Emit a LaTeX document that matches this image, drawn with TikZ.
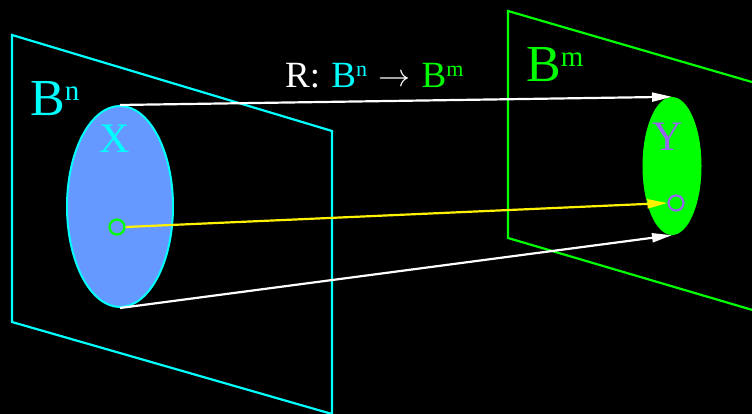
\documentclass[tikz,border=0pt]{standalone}
\usepackage{fontspec}
\setmainfont{Liberation Serif}
\usetikzlibrary{arrows.meta,shapes.geometric}
\definecolor{xfill}{RGB}{102,153,255}
\definecolor{ypurple}{RGB}{150,100,240}
\definecolor{cyn}{RGB}{0,255,255}
\definecolor{grn}{RGB}{0,255,0}
\newcommand\supbig[1]{\raisebox{15pt}{\fontsize{29}{30}\selectfont #1}}
\newcommand\supmid[1]{\raisebox{11pt}{\fontsize{22}{24}\selectfont #1}}
\begin{document}
\begin{tikzpicture}[x=1pt,y=-1pt,
  plane/.style={line width=2.2pt},
  map/.style={line width=2.2pt,-{Triangle[length=20pt,width=9pt]}},
  big/.style={font=\fontsize{52}{60}\selectfont,inner sep=0pt},
  mid/.style={font=\fontsize{37}{42}\selectfont,inner sep=0pt},
  lbl/.style={font=\fontsize{42}{48}\selectfont,inner sep=0pt},
  dot/.style={circle,line width=2.2pt,minimum size=15pt,inner sep=0pt}]
\fill[black] (0,0) rectangle (752,414);
\useasboundingbox (0,0) rectangle (752,414);
\begin{scope}
\clip (0,0) rectangle (752,414);
\draw[plane,cyn] (12,35) -- (332,131) -- (332,414) -- (12,322) -- cycle;
\draw[plane,grn] (508,11) -- (800,96) -- (800,324) -- (508,238) -- cycle;
\end{scope}
\node[big,text=cyn,anchor=base west] (bn) at (30,116) {B\supbig{n}};
\node[big,text=grn,anchor=base west] (bm) at (526,82) {B\supbig{m}};
\node[ellipse,draw=cyn,fill=xfill,line width=2pt,minimum width=106pt,minimum height=201pt,inner sep=0pt] (X) at (120,206.5) {};
\node[ellipse,fill=grn,minimum width=59pt,minimum height=138pt,inner sep=0pt] (Y) at (672,166) {};
\node[lbl,text=cyn,anchor=base] (xl) at (115,153) {X};
\node[lbl,text=ypurple,anchor=base] (yl) at (668,151) {Y};
\node[dot,draw=grn] (xc) at (117,227) {};
\node[dot,draw=ypurple] (yc) at (676,203) {};
\draw[map,white] (X.north) -- (Y.north);
\draw[map,white] (X.south) -- (Y.south);
\draw[map,yellow] (xc.east) -- (yc.west);
\node[mid,text=white,anchor=base west] (r) at (285,88) {R:\hspace{2pt} \textcolor{cyn}{B\supmid{n}}\hspace{2pt} \raisebox{1pt}{\resizebox{32pt}{!}{$\rightarrow$}}\hspace{2pt} \textcolor{grn}{B\supmid{m}}};
\end{tikzpicture}
\end{document}
